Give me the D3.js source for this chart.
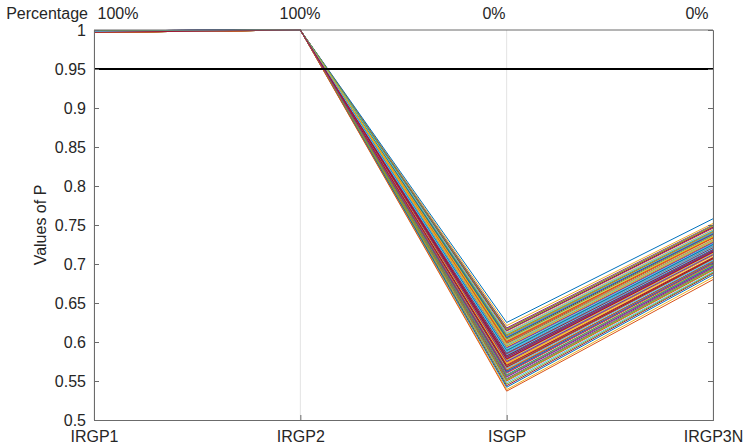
<!DOCTYPE html>
<html>
<head>
<meta charset="utf-8">
<script src="https://cdn.jsdelivr.net/npm/d3@7"></script>
<style>
  html, body { margin: 0; padding: 0; background: #fff; }
  svg { display: block; font-family: "Liberation Sans", Arial, Helvetica, sans-serif; }
</style>
</head>
<body>
<div id="chart"></div>
<script>
// axes / categories
const categories = ["IRGP1", "IRGP2", "ISGP", "IRGP3N"];
const percentLabels = ["100%", "100%", "0%", "0%"];
const yTicks = [0.5, 0.55, 0.6, 0.65, 0.7, 0.75, 0.8, 0.85, 0.9, 0.95, 1];
const threshold = 0.95;

// one value per line, per axis
const irgp1 = [0.998,0.997,0.999,0.998,0.997,0.999,0.998,0.998,0.999,0.997,
               0.998,0.999,0.997,0.998,0.999,0.998,0.997,0.999,0.998,0.997,
               0.999,0.998,0.997,0.998,0.999,0.998,0.997,0.999,0.998,0.998,
               0.997,0.999,0.998,0.997,0.998,0.999,0.998,0.997,0.999,0.998,
               0.998,0.997,0.999,0.998,0.997,0.999,0.998,0.998,0.997,0.999,
               0.998,0.997,0.999,0.998,0.998,0.997,0.999,0.998,0.997,0.999,
               0.998,0.998,0.997,0.999,0.998,0.997,0.999,0.998,0.998,0.997,
               0.999,0.998,0.997,0.998,0.999,0.998,0.997];
const irgp2 = Array(77).fill(1);
const isgp = [0.598,0.571,0.612,0.556,0.589,0.603,0.544,0.583,0.617,0.565,
              0.592,0.551,0.607,0.578,0.586,0.560,0.621,0.574,0.595,0.548,
              0.601,0.581,0.567,0.610,0.553,0.590,0.576,0.605,0.562,0.587,
              0.539,0.614,0.569,0.596,0.580,0.558,0.608,0.572,0.593,0.546,
              0.584,0.615,0.563,0.599,0.577,0.555,0.604,0.588,0.570,0.625,
              0.550,0.594,0.579,0.609,0.566,0.585,0.542,0.600,0.573,0.618,
              0.557,0.591,0.582,0.606,0.564,0.597,0.575,0.552,0.611,0.568,
              0.589,0.537,0.602,0.561,0.616,0.587,0.578];
const irgp3n = [0.731,0.708,0.744,0.697,0.724,0.737,0.688,0.719,0.748,0.703,
                0.727,0.693,0.740,0.715,0.722,0.700,0.752,0.711,0.729,0.690,
                0.734,0.717,0.706,0.742,0.695,0.725,0.713,0.738,0.702,0.723,
                0.683,0.746,0.707,0.730,0.716,0.698,0.741,0.709,0.728,0.689,
                0.720,0.747,0.704,0.733,0.714,0.696,0.736,0.724,0.708,0.758,
                0.692,0.729,0.716,0.742,0.705,0.721,0.686,0.734,0.711,0.750,
                0.699,0.726,0.718,0.739,0.703,0.731,0.712,0.694,0.743,0.707,
                0.725,0.680,0.735,0.701,0.749,0.722,0.715];

const colors = ["#0072BD", "#D95319", "#EDB120", "#7E2F8E", "#77AC30", "#4DBEEE", "#A2142F"];

const width = 744, height = 444;
const margin = { top: 30, right: 31, bottom: 24, left: 94 };

const svg = d3.select("#chart").append("svg")
    .attr("width", width)
    .attr("height", height);

const x = d3.scalePoint()
    .domain(categories)
    .range([margin.left, width - margin.right]);

const y = d3.scaleLinear()
    .domain([0.5, 1])
    .range([height - margin.bottom, margin.top]);

const axisColor = "#6b6b6b";
const textColor = "#262626";
const fontSize = "16px";

// vertical grid lines at each category
svg.append("g")
    .selectAll("line")
    .data(categories)
    .join("line")
    .attr("x1", d => x(d)).attr("x2", d => x(d))
    .attr("y1", y(0.5)).attr("y2", y(1))
    .attr("stroke", "#e3e3e3")
    .attr("stroke-width", 1);

// the lines
const rows = isgp.map((v, i) => [irgp1[i], irgp2[i], v, irgp3n[i]]);
const line = d3.line()
    .x((d, i) => x(categories[i]))
    .y(d => y(d));

svg.append("g")
    .attr("fill", "none")
    .selectAll("path")
    .data(rows)
    .join("path")
    .attr("d", d => line(d))
    .attr("stroke", (d, i) => colors[i % colors.length])
    .attr("stroke-width", 1);

// threshold
svg.append("line")
    .attr("x1", x(categories[0])).attr("x2", x(categories[3]))
    .attr("y1", y(threshold)).attr("y2", y(threshold))
    .attr("stroke", "#000")
    .attr("stroke-width", 2);

// left axis
const yAxis = svg.append("g")
    .attr("transform", `translate(${x(categories[0])},0)`)
    .call(d3.axisLeft(y).tickValues(yTicks).tickSize(-5).tickPadding(8).tickFormat(d3.format("")));
yAxis.select(".domain").attr("stroke", axisColor);
yAxis.selectAll(".tick line").attr("stroke", axisColor);
yAxis.selectAll(".tick text")
    .attr("fill", textColor)
    .style("font-size", fontSize)
    .attr("dy", "0.35em");

// right axis (mirror ticks)
const yAxisR = svg.append("g")
    .attr("transform", `translate(${x(categories[3])},0)`)
    .call(d3.axisRight(y).tickValues(yTicks).tickSize(-5).tickFormat(""));
yAxisR.select(".domain").attr("stroke", axisColor);
yAxisR.selectAll(".tick line").attr("stroke", axisColor);

// bottom axis
const xAxis = svg.append("g")
    .attr("transform", `translate(0,${y(0.5)})`)
    .call(d3.axisBottom(x).tickSize(-5));
xAxis.select(".domain").attr("stroke", axisColor);
xAxis.selectAll(".tick line").attr("stroke", axisColor);
xAxis.selectAll(".tick text")
    .attr("fill", textColor)
    .style("font-size", fontSize)
    .attr("y", 22)
    .attr("dy", null);

// top border
svg.append("line")
    .attr("x1", x(categories[0])).attr("x2", x(categories[3]))
    .attr("y1", y(1)).attr("y2", y(1))
    .attr("stroke", axisColor);

// percentage labels along the top
const pctX = [118, 300, 494, 697];
svg.append("text")
    .attr("x", 88).attr("y", 19)
    .attr("text-anchor", "end")
    .attr("fill", textColor)
    .style("font-size", fontSize)
    .text("Percentage");
svg.append("g")
    .selectAll("text")
    .data(percentLabels)
    .join("text")
    .attr("x", (d, i) => pctX[i])
    .attr("y", 19)
    .attr("text-anchor", "middle")
    .attr("fill", textColor)
    .style("font-size", fontSize)
    .text(d => d);

// y label
svg.append("text")
    .attr("transform", `translate(46,${(y(0.5) + y(1)) / 2}) rotate(-90)`)
    .attr("text-anchor", "middle")
    .attr("fill", textColor)
    .style("font-size", "16px")
    .text("Values of P");
</script>
</body>
</html>
